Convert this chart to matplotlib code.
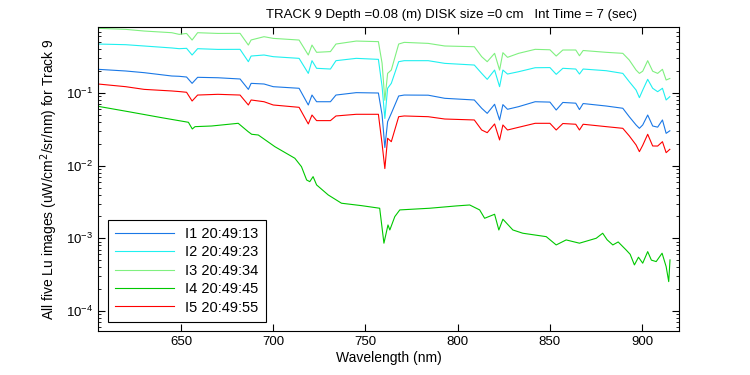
"""Lu spectra for Track 9, five images, log scale."""
import matplotlib
matplotlib.use("Agg")
import matplotlib.pyplot as plt
import numpy as np

plt.rcParams["font.family"] = ["Liberation Sans", "DejaVu Sans"]

# wavelength grid shared by I1, I2, I3, I5 (nm)
wl = [605, 620, 630, 645, 649, 653, 656, 659, 670, 682, 686.5, 688, 695, 700,
      714, 719, 721, 723.5, 731, 734, 745, 757, 759, 760.5, 762, 764, 768, 771,
      784, 793, 809, 813, 816, 820, 822.7, 824.5, 827, 833, 842, 850, 853.4,
      857, 864, 866, 868, 880.5, 889.5, 893, 896.7, 898.5, 900.3, 903, 905.7,
      908.4, 911, 913, 915]

# log10 of Lu
log_i1 = [-0.674, -0.697, -0.72, -0.766, -0.77, -0.78, -0.867, -0.784, -0.79, -0.807,
          -0.95, -0.867, -0.876, -0.913, -0.935, -1.165, -1.028, -1.12, -1.12, -1.028,
          -0.995, -1.0, -1.30, -1.75, -1.395, -1.28, -1.041, -1.028, -1.03, -1.073,
          -1.096, -1.21, -1.28, -1.155, -1.371, -1.16, -1.224, -1.188, -1.12, -1.125,
          -1.234, -1.13, -1.14, -1.228, -1.145, -1.179, -1.21, -1.326, -1.44, -1.486,
          -1.44, -1.303, -1.454, -1.47, -1.371, -1.555, -1.52]
log_i2 = [-0.326, -0.335, -0.353, -0.38, -0.39, -0.385, -0.477, -0.39, -0.40, -0.399,
          -0.569, -0.491, -0.477, -0.50, -0.523, -0.73, -0.555, -0.66, -0.67, -0.555,
          -0.523, -0.537, -0.91, -1.35, -0.935, -0.867, -0.569, -0.555, -0.555, -0.592,
          -0.615, -0.73, -0.812, -0.684, -0.913, -0.684, -0.739, -0.707, -0.652, -0.65,
          -0.743, -0.66, -0.67, -0.739, -0.67, -0.693, -0.73, -0.844, -0.959, -1.064,
          -0.96, -0.812, -0.935, -0.982, -0.935, -1.096, -1.05]
log_i3 = [-0.11, -0.124, -0.147, -0.17, -0.193, -0.18, -0.271, -0.17, -0.18, -0.179,
          -0.34, -0.27, -0.225, -0.248, -0.271, -0.477, -0.34, -0.44, -0.43, -0.326,
          -0.285, -0.293, -0.59, -1.10, -0.73, -0.684, -0.326, -0.303, -0.317, -0.353,
          -0.363, -0.50, -0.569, -0.454, -0.684, -0.445, -0.509, -0.454, -0.399, -0.405,
          -0.491, -0.408, -0.408, -0.487, -0.415, -0.44, -0.454, -0.546, -0.684, -0.73,
          -0.70, -0.555, -0.70, -0.73, -0.674, -0.821, -0.80]
log_i5 = [-0.876, -0.913, -0.95, -0.972, -0.98, -0.99, -1.11, -1.028, -1.018, -1.028,
          -1.165, -1.096, -1.12, -1.165, -1.197, -1.426, -1.303, -1.38, -1.38, -1.316,
          -1.293, -1.293, -1.70, -2.04, -1.623, -1.67, -1.326, -1.316, -1.326, -1.358,
          -1.371, -1.509, -1.546, -1.426, -1.646, -1.44, -1.509, -1.472, -1.417, -1.417,
          -1.509, -1.42, -1.43, -1.509, -1.43, -1.463, -1.486, -1.59, -1.715, -1.807,
          -1.72, -1.568, -1.729, -1.73, -1.67, -1.821, -1.775]

# I4 has its own shape
wl_i4 = [605, 606.1, 621.5, 639.6, 654, 656.1, 657.6, 666.6, 681, 686.4, 688.3, 691.9,
         700.9, 711.7, 715.3, 718.1, 719.8, 721.6, 723.5, 729.8, 737, 747.8, 757.7,
         760.0, 762.2, 763.2, 765.9, 768.6, 784.8, 799.3, 806.5, 811.9, 814.6, 820,
         822.3, 824.5, 829.9, 835.3, 848, 853.4, 858.8, 866, 875.1, 878.6, 881,
         884.1, 887, 891.3, 893.5, 895.8, 898, 900.3, 903, 905, 907.6, 910.8, 913,
         914.4, 915.1]
log_i4 = [-1.179, -1.188, -1.257, -1.34, -1.403, -1.495, -1.463, -1.454, -1.417, -1.532,
          -1.568, -1.578, -1.739, -1.898, -2.014, -2.197, -2.22, -2.151, -2.265, -2.403,
          -2.517, -2.55, -2.586, -3.067, -2.816, -2.885, -2.701, -2.609, -2.586, -2.554,
          -2.541, -2.609, -2.724, -2.669, -2.885, -2.737, -2.885, -2.93, -2.977, -3.091,
          -3.022, -3.067, -2.999, -2.93, -3.02, -3.091, -3.05, -3.16, -3.22, -3.366,
          -3.26, -3.342, -3.183, -3.30, -3.32, -3.205, -3.389, -3.596, -3.297]

labels = ["I1 20:49:13", "I2 20:49:23", "I3 20:49:34", "I4 20:49:45", "I5 20:49:55"]
colors = ["#1a78e6", "#1ff0f0", "#80f080", "#00c800", "#ff0000"]

series = [(wl, log_i1), (wl, log_i2), (wl, log_i3), (wl_i4, log_i4), (wl, log_i5)]

fig = plt.figure(figsize=(7.5, 3.75), dpi=100)
ax = fig.add_axes([0.1307, 0.1173, 0.7747, 0.8107])

for (x, ly), lab, c in zip(series, labels, colors):
    ax.semilogy(x, 10 ** np.array(ly), color=c, lw=0.8, label=lab)

ax.set_xlim(605, 920)
ax.set_ylim(5.3e-5, 0.81)
ax.set_xticks([650, 700, 750, 800, 850, 900])
ax.tick_params(which="both", direction="in", top=True, right=True, labelsize=9.5)
ax.tick_params(which="major", length=5)
ax.tick_params(which="minor", length=2.5)
for s in ax.spines.values():
    s.set_linewidth(0.8)

# the title sits right of the axes centre in the original
ax.text(0.609, 1.02, "TRACK 9 Depth =0.08 (m) DISK size =0 cm   Int Time = 7 (sec)",
        transform=ax.transAxes, ha="center", va="bottom", fontsize=9.5)
ax.set_xlabel("Wavelength (nm)", fontsize=10, labelpad=2)
ax.set_ylabel("All five Lu images (uW/cm$^2$/sr/nm) for Track 9", fontsize=10)

leg = ax.legend(loc="lower left", bbox_to_anchor=(0.017, 0.03), fontsize=10.5,
                handlelength=4.0, fancybox=False, framealpha=1, borderaxespad=0,
                labelspacing=0.3, borderpad=0.5)
leg.get_frame().set_edgecolor("black")
leg.get_frame().set_linewidth(0.8)

fig.savefig("out.png", dpi=100)
